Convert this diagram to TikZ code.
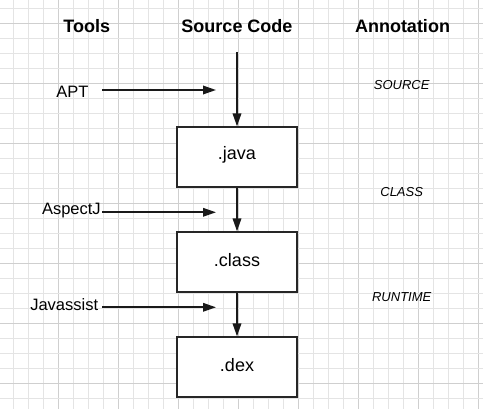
\documentclass[tikz,border=0pt]{standalone}
\usepackage{fontspec}
\setmainfont{Liberation Sans}
\usetikzlibrary{arrows.meta}
\definecolor{gridminor}{HTML}{E4E4E4}
\definecolor{gridmajor}{HTML}{CFCFCF}
\tikzset{
  stagebox/.style={draw=black!85, line width=1.8pt, fill=white, minimum width=120pt, minimum height=60pt, inner sep=0pt, font=\fontsize{18}{22}\selectfont},
  boxtext/.style={inner sep=0pt, font=\fontsize{18}{22}\selectfont},
  header/.style={font=\fontsize{18}{22}\selectfont\bfseries, inner sep=0pt},
  toollabel/.style={font=\fontsize{16.5}{20}\selectfont, inner sep=0pt},
  annot/.style={font=\fontsize{13}{16}\selectfont\itshape, inner sep=0pt},
  flow/.style={line width=1.8pt, draw=black!90, -{Triangle[length=13pt,width=8.5pt]}}
}
\begin{document}
\begin{tikzpicture}[x=1pt,y=-1pt]
\useasboundingbox (0,0) rectangle (483,409);
\fill[white] (0,0) rectangle (483,409);
% grid
\foreach \k in {0,...,31}{
  \pgfmathsetmacro{\xx}{13.3+15*\k}
  \pgfmathtruncatemacro{\mm}{mod(\k-3+40,4)}
  \ifnum\mm=0
    \draw[gridmajor, line width=0.8pt] (\xx,0) -- (\xx,409);
  \else
    \draw[gridminor, line width=0.8pt] (\xx,0) -- (\xx,409);
  \fi
}
\foreach \k in {0,...,26}{
  \pgfmathsetmacro{\yy}{8+15*\k}
  \pgfmathtruncatemacro{\mm}{mod(\k-1+40,4)}
  \ifnum\mm=0
    \draw[gridmajor, line width=0.8pt] (0,\yy) -- (483,\yy);
  \else
    \draw[gridminor, line width=0.8pt] (0,\yy) -- (483,\yy);
  \fi
}
% headers
\node[header] (htools) at (86.7,26.5) {Tools};
\node[header] (hsrc) at (237,26.5) {Source Code};
\node[header] (hann) at (402.5,26.5) {Annotation};
% boxes
\node[stagebox] (java) at (237,157.3) {};
\node[stagebox] (class) at (237,262.3) {};
\node[stagebox] (dex) at (237,367.3) {};
\node[boxtext] (javat) at (237,155.3) {.java};
\node[boxtext] (classt) at (237,260.3) {.class};
\node[boxtext] (dext) at (237,365.3) {.dex};
% vertical flow
\coordinate (srctop) at (237,52);
\draw[flow] (srctop) -- (java.north);
\draw[flow] (java.south) -- (class.north);
\draw[flow] (class.south) -- (dex.north);
% tools
\node[toollabel] (apt) at (72.5,91.5) {APT};
\node[toollabel] (aspectj) at (71.4,210.5) {AspectJ};
\node[toollabel] (javassist) at (64.2,305) {Javassist};
\coordinate (apts) at (102,90);
\coordinate (apte) at (216,90);
\coordinate (ajs) at (102,212.3);
\coordinate (aje) at (216,212.3);
\coordinate (jas) at (102,307.3);
\coordinate (jae) at (216,307.3);
\draw[flow] (apts) -- (apte);
\draw[flow] (ajs) -- (aje);
\draw[flow] (jas) -- (jae);
% annotations
\node[annot] (asrc) at (401.7,85) {SOURCE};
\node[annot] (acls) at (401.7,191.7) {CLASS};
\node[annot] (art) at (401.7,297.3) {RUNTIME};
\end{tikzpicture}
\end{document}
